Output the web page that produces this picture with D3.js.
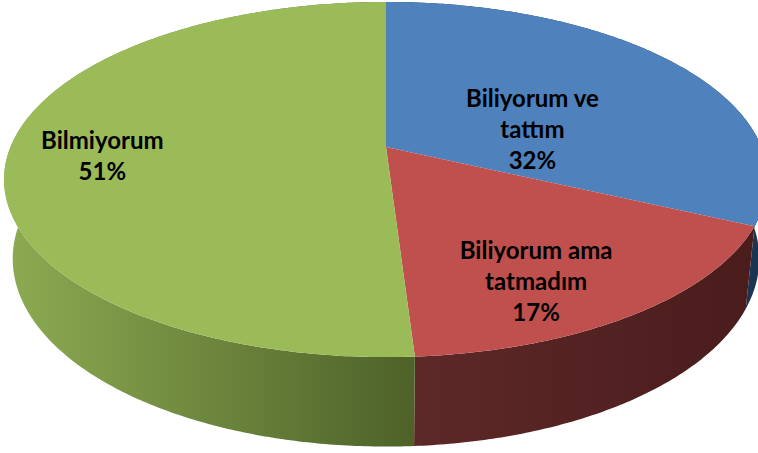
<!DOCTYPE html>
<html>
<head>
<meta charset="utf-8">
<script src="https://cdn.jsdelivr.net/npm/d3@7"></script>
<style>
  body { margin: 0; background: #fff; }
  svg { display: block; }
  .lbl { font-family: Lato, "Open Sans", sans-serif; font-weight: bold; font-size: 24px; fill: #000; }
</style>
</head>
<body>
<svg width="758" height="453"></svg>
<script>
// data
var categories = ["Biliyorum ve tattım", "Biliyorum ama tatmadım", "Bilmiyorum"];
var labelLines = [["Biliyorum ve", "tattım"], ["Biliyorum ama", "tatmadım"], ["Bilmiyorum"]];
var values = [32, 17, 51];

// layout / style (not data)
var topColors = ["#4f81bd", "#c0504d", "#9bbb59"];
var sideStops = [
  ["#1f3b5e", "#1b3452"],
  ["#5e2828", "#4a1c1c"],
  ["#8dab52", "#4e6229"]
];
var labelPlace = [[75.7, 0.41], [153, 0.77], [266, 0.75]]; // angle (deg), radius fraction

var svg = d3.select("svg");

// simple perspective camera for a tilted disc
var cam = { cx: 386, cy: 147, f: 1825, D: 4.86, tilt: 27.2 * Math.PI / 180, depth: 0.239 };
var sinT = Math.sin(cam.tilt), cosT = Math.cos(cam.tilt);

function project(theta, r, y) {
  var X = r * Math.sin(theta), Z = r * Math.cos(theta);
  var v = y * cosT + Z * sinT;
  var w = cam.D + Z * cosT - y * sinT;
  return [cam.cx + cam.f * X / w, cam.cy - cam.f * v / w];
}

var pie = d3.pie().sort(null).value(function (d) { return d; });
var arcs = pie(values);
var total = d3.sum(values);

function arcPoints(a0, a1, r, y) {
  var n = Math.max(2, Math.ceil((a1 - a0) / 0.01));
  var pts = [];
  for (var i = 0; i <= n; i++) pts.push(project(a0 + (a1 - a0) * i / n, r, y));
  return pts;
}

var line = d3.line().curve(d3.curveLinearClosed);

var defs = svg.append("defs");
sideStops.forEach(function (s, i) {
  var x0 = i === 2 ? 5 : 410, x1 = i === 2 ? 410 : 758;
  if (i === 0) { x0 = 700; x1 = 758; }
  var g = defs.append("linearGradient")
    .attr("id", "side" + i)
    .attr("gradientUnits", "userSpaceOnUse")
    .attr("x1", x0).attr("y1", 0).attr("x2", x1).attr("y2", 0);
  g.append("stop").attr("offset", "0%").attr("stop-color", s[0]);
  g.append("stop").attr("offset", "100%").attr("stop-color", s[1]);
});

// outer walls
var walls = svg.append("g");
arcs.forEach(function (d, i) {
  var topEdge = arcPoints(d.startAngle, d.endAngle, 1, 0);
  var botEdge = arcPoints(d.startAngle, d.endAngle, 1, -cam.depth).reverse();
  walls.append("path")
    .attr("d", line(topEdge.concat(botEdge)))
    .attr("fill", "url(#side" + i + ")");
});

// top faces
var tops = svg.append("g");
arcs.forEach(function (d, i) {
  var pts = [project(0, 0, 0)].concat(arcPoints(d.startAngle, d.endAngle, 1, 0));
  tops.append("path")
    .attr("d", line(pts))
    .attr("fill", topColors[i]);
});

// labels
var labels = svg.append("g");
arcs.forEach(function (d, i) {
  var p = project(labelPlace[i][0] * Math.PI / 180, labelPlace[i][1], 0);
  var lines = labelLines[i].concat([Math.round(100 * d.value / total) + "%"]);
  var lh = 31;
  var t = labels.append("text")
    .attr("class", "lbl")
    .attr("text-anchor", "middle");
  lines.forEach(function (s, k) {
    t.append("tspan")
      .attr("x", p[0])
      .attr("y", p[1] + (k - (lines.length - 1) / 2) * lh)
      .attr("dy", "0.35em")
      .text(s);
  });
});
</script>
</body>
</html>
